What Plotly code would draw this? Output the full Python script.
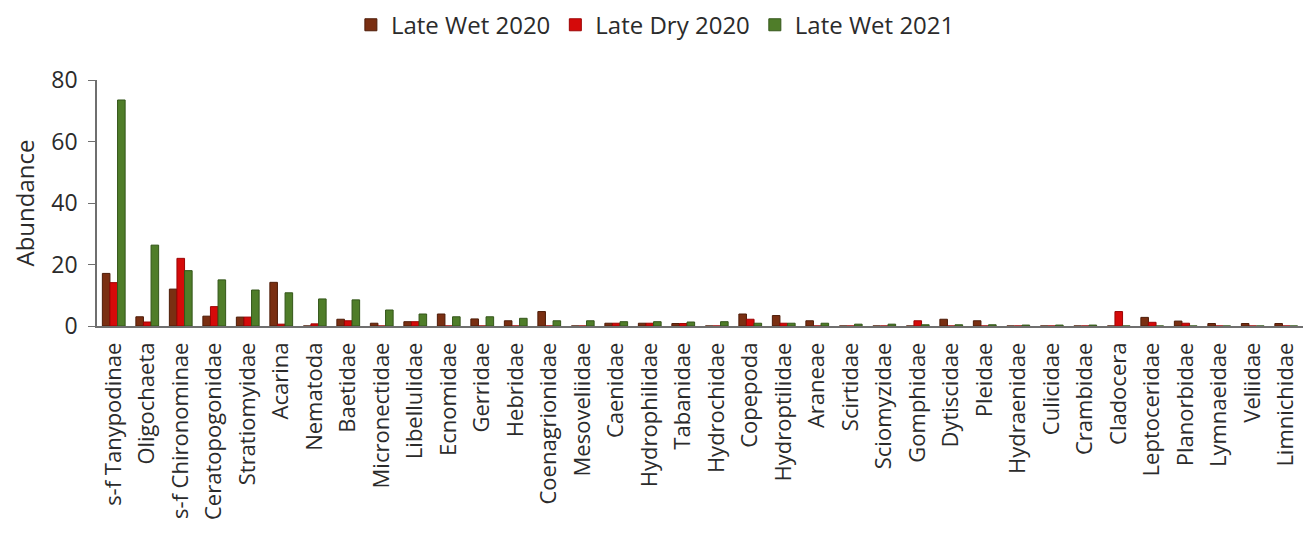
import plotly.graph_objects as go

taxa = [
    "s-f Tanypodinae", "Oligochaeta", "s-f Chironominae", "Ceratopogonidae",
    "Stratiomyidae", "Acarina", "Nematoda", "Baetidae", "Micronectidae",
    "Libellulidae", "Ecnomidae", "Gerridae", "Hebridae", "Coenagrionidae",
    "Mesoveliidae", "Caenidae", "Hydrophilidae", "Tabanidae", "Hydrochidae",
    "Copepoda", "Hydroptilidae", "Araneae", "Scirtidae", "Sciomyzidae",
    "Gomphidae", "Dytiscidae", "Pleidae", "Hydraenidae", "Culicidae",
    "Crambidae", "Cladocera", "Leptoceridae", "Planorbidae", "Lymnaeidae",
    "Veliidae", "Limnichidae",
]

late_wet_2020 = [
    17.1, 3.0, 12.0, 3.2, 2.9, 14.2, 0.0, 2.2, 0.9,
    1.4, 3.9, 2.3, 1.7, 4.7, 0.0, 0.9, 0.9, 0.8, 0.0,
    3.9, 3.4, 1.7, 0.0, 0.0, 0.0, 2.2, 1.7, 0.0, 0.0,
    0.0, 0.0, 2.8, 1.6, 0.8, 0.8, 0.8,
]

late_dry_2020 = [
    14.1, 1.3, 22.0, 6.3, 2.9, 0.6, 0.7, 1.7, 0.0,
    1.4, 0.0, 0.0, 0.0, 0.0, 0.0, 0.9, 0.9, 0.8, 0.0,
    2.2, 0.9, 0.0, 0.0, 0.0, 1.7, 0.0, 0.0, 0.0, 0.0,
    0.0, 4.7, 1.2, 0.9, 0.0, 0.0, 0.0,
]

late_wet_2021 = [
    73.5, 26.3, 18.0, 15.0, 11.7, 10.8, 8.8, 8.5, 5.2,
    3.9, 3.0, 3.0, 2.5, 1.7, 1.7, 1.4, 1.4, 1.3, 1.4,
    0.9, 0.9, 0.9, 0.6, 0.6, 0.4, 0.4, 0.4, 0.3, 0.3,
    0.3, 0.0, 0.0, 0.0, 0.0, 0.0, 0.0,
]

series = [
    ("Late Wet 2020", late_wet_2020, "#7a2f12", "#4e1c08"),
    ("Late Dry 2020", late_dry_2020, "#d50a0a", "#9c0505"),
    ("Late Wet 2021", late_wet_2021, "#4f7d29", "#34561a"),
]

fig = go.Figure()
for name, vals, fill, edge in series:
    fig.add_trace(go.Bar(
        x=taxa, y=vals, name=name,
        marker=dict(color=fill, line=dict(color=edge, width=1)),
    ))

font_family = "Open Sans, Noto Sans, sans-serif"
text_color = "#2b2b2b"
axis_color = "#6f6f6f"

fig.update_layout(
    width=1306, height=536,
    paper_bgcolor="white", plot_bgcolor="white",
    margin=dict(l=97, r=3, t=80, b=210),
    barmode="group", bargap=0.32, bargroupgap=0.0,
    font=dict(family=font_family, size=20, color=text_color),
    legend=dict(
        orientation="h", x=0.463, xanchor="center", y=0.995, yref="container",
        yanchor="top", font=dict(size=24, color=text_color),
        itemwidth=30, traceorder="normal",
    ),
    showlegend=True,
)

fig.update_xaxes(
    showline=True, linecolor=axis_color, linewidth=1.5,
    ticks="", tickangle=-90, showgrid=False, automargin=False,
    ticklabelstandoff=6,
    tickfont=dict(size=22, color=text_color),
)
fig.update_yaxes(
    range=[0, 80], dtick=20, showgrid=False, zeroline=False,
    showline=True, linecolor=axis_color, linewidth=1.5, automargin=False,
    ticks="outside", ticklen=7, tickcolor=axis_color,
    ticklabelstandoff=6,
    tickfont=dict(size=23, color=text_color),
    title=dict(text="Abundance", font=dict(size=24, color=text_color), standoff=10),
)

fig.write_html("out.html")
